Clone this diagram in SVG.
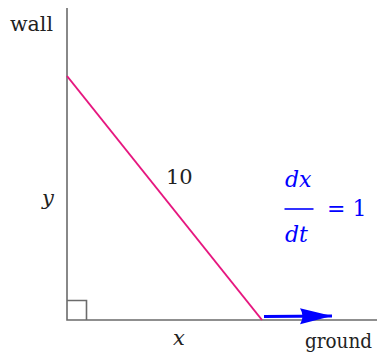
<svg xmlns="http://www.w3.org/2000/svg" width="377" height="355" viewBox="0 0 377 355">
<defs>
<style>
.ax{stroke:#6b6b6b;stroke-width:1.6;fill:none}
</style>
<marker id="ah" markerUnits="userSpaceOnUse" markerWidth="34" markerHeight="20" refX="32" refY="9" orient="auto" viewBox="0 0 34 20">
<path d="M0,1 Q5,9 0,17 L32,9 Z" fill="#0000ff"/>
</marker>
</defs>
<rect width="377" height="355" fill="#fff"/>
<g id="axes">
<path class="ax" d="M67,8 V320 H377"/>
<path class="ax" d="M67,300.5 H86.5 V320"/>
</g>
<g id="connectors">
<line x1="67" y1="76" x2="262" y2="320" stroke="#e6177f" stroke-width="2"/>
<line x1="264" y1="316.5" x2="332" y2="316" stroke="#0000ff" stroke-width="3" marker-end="url(#ah)"/>
</g>
<g id="labels" font-family="DejaVu Serif, serif" font-size="21" fill="#222">
<text x="10" y="31" textLength="43" lengthAdjust="spacingAndGlyphs">wall</text>
<text x="305" y="348" font-size="20" textLength="67" lengthAdjust="spacingAndGlyphs">ground</text>
<text x="166" y="184">10</text>
<text x="42" y="205" font-style="italic">y</text>
<text x="173" y="345" font-style="italic">x</text>
</g>
<g id="rate" font-family="DejaVu Serif, serif" font-size="22" fill="#0000ff">
<text x="285" y="187" font-style="italic">dx</text>
<line x1="284.5" y1="209" x2="313.5" y2="209" stroke="#0000ff" stroke-width="1.6"/>
<text x="285" y="242" font-style="italic">dt</text>
<text x="327" y="216">= 1</text>
</g>
</svg>
